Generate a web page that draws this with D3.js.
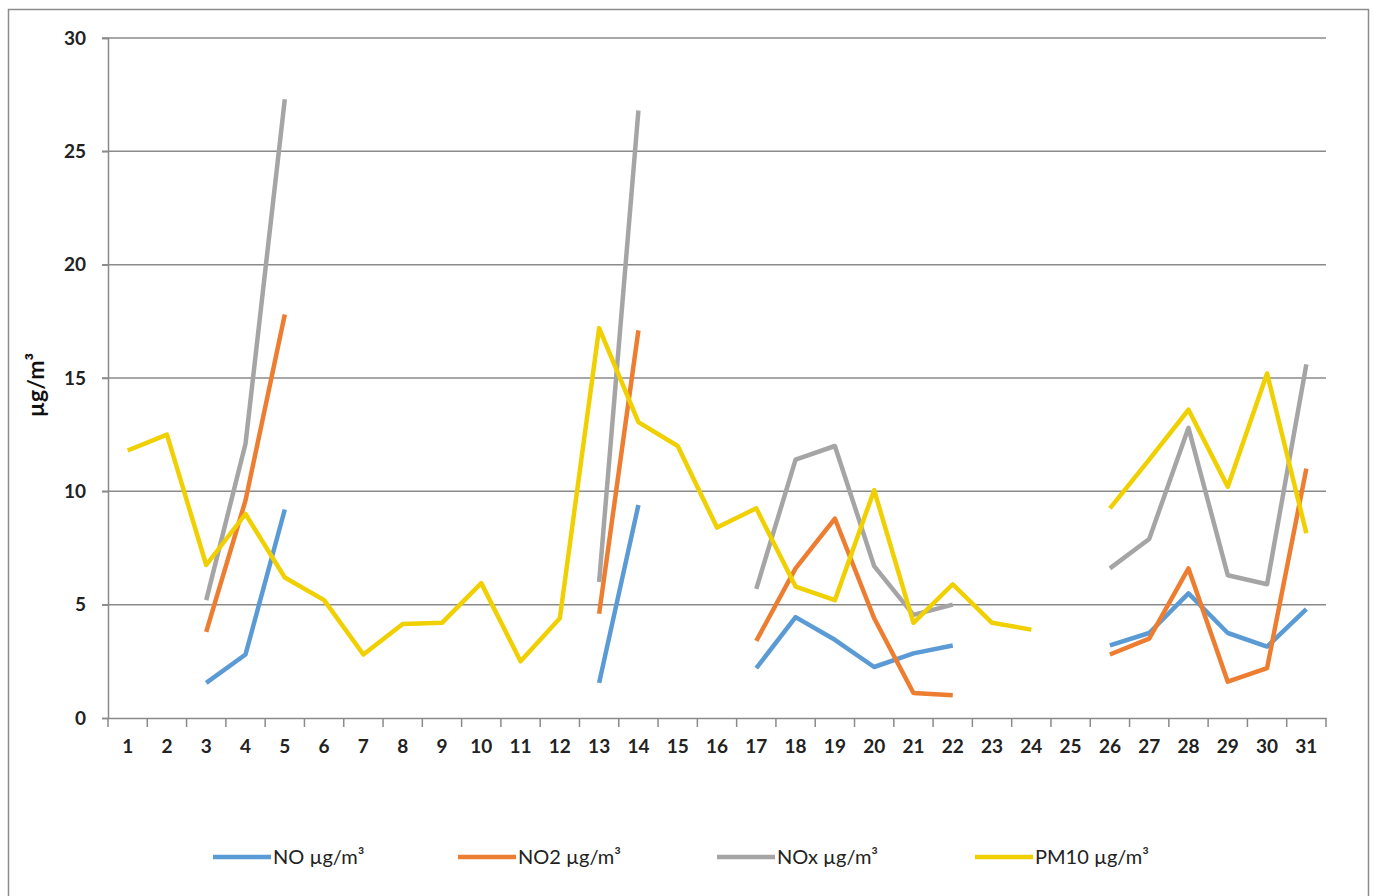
<!DOCTYPE html>
<html>
<head>
<meta charset="utf-8">
<script src="https://cdn.jsdelivr.net/npm/d3@7"></script>
<style>
  body { margin: 0; background: #fff; }
  svg text { font-family: Lato, "Open Sans", sans-serif; }
</style>
</head>
<body>
<div id="chart"></div>
<script>
// days of the month
const days = d3.range(1, 32).map(String);

// null = no measurement that day
const noValues = [null, null, 1.55, 2.8, 9.2, null, null, null, null, null, null, null, 1.55, 9.4, null, null,
    2.2, 4.45, 3.45, 2.25, 2.85, 3.2, null, null, null, 3.2, 3.75, 5.5, 3.75, 3.15, 4.8];
const no2Values = [null, null, 3.8, 9.6, 17.8, null, null, null, null, null, null, null, 4.6, 17.1, null, null,
    3.4, 6.6, 8.8, 4.4, 1.1, 1.0, null, null, null, 2.8, 3.5, 6.6, 1.6, 2.2, 11.0];
const noxValues = [null, null, 5.2, 12.1, 27.3, null, null, null, null, null, null, null, 6.0, 26.8, null, null,
    5.7, 11.4, 12.0, 6.7, 4.55, 5.0, null, null, null, 6.6, 7.9, 12.8, 6.3, 5.9, 15.6];
const pm10Values = [11.8, 12.5, 6.75, 9.0, 6.2, 5.2, 2.8, 4.15, 4.2, 5.95, 2.5, 4.4, 17.2, 13.05, 12.0, 8.4,
    9.25, 5.8, 5.2, 10.05, 4.2, 5.9, 4.2, 3.9, null, 9.25, 11.4, 13.6, 10.2, 15.2, 8.15];

const seriesNames = ["NO µg/m³", "NO2 µg/m³", "NOx µg/m³", "PM10 µg/m³"];
const seriesColors = ["#5b9bd5", "#ed7d31", "#a5a5a5", "#f0d000"];
const yTicks = [0, 5, 10, 15, 20, 25, 30];

const series = [noValues, no2Values, noxValues, pm10Values].map((vals, i) => ({
    name: seriesNames[i],
    color: seriesColors[i],
    values: vals.map((v, j) => ({ day: days[j], v }))
}));

const width = 1374, height = 896;
const margin = { top: 38, right: 48, bottom: 178, left: 108 };

const svg = d3.select("#chart").append("svg")
    .attr("width", width)
    .attr("height", height);

// chart frame
svg.append("rect")
    .attr("x", 8.5).attr("y", 9.5)
    .attr("width", 1360).attr("height", 900)
    .attr("fill", "none")
    .attr("stroke", "#8c8c8c")
    .attr("stroke-width", 1.5);

const x = d3.scaleBand()
    .domain(days)
    .range([margin.left, width - margin.right]);

const y = d3.scaleLinear()
    .domain([0, 30])
    .range([height - margin.bottom, margin.top]);

// gridlines
svg.append("g")
    .selectAll("line")
    .data(yTicks.slice(1))
    .enter()
    .append("line")
    .attr("x1", margin.left - 6)
    .attr("x2", width - margin.right)
    .attr("y1", d => y(d))
    .attr("y2", d => y(d))
    .attr("stroke", "#8a8a8a")
    .attr("stroke-width", 1.5);

// y axis
const yAxis = svg.append("g")
    .attr("transform", `translate(${margin.left},0)`)
    .call(d3.axisLeft(y).tickValues(yTicks).tickSize(6).tickPadding(16));
yAxis.select(".domain").attr("stroke", "#8a8a8a").attr("stroke-width", 1.5);
yAxis.selectAll(".tick line").attr("stroke", "#8a8a8a").attr("stroke-width", 1.5);
yAxis.selectAll("text")
    .attr("font-size", 19)
    .attr("font-weight", "bold")
    .attr("fill", "#222")
    .style("font-family", "Lato, 'Open Sans', sans-serif");

// x axis, ticks between categories
const xAxis = svg.append("g")
    .attr("transform", `translate(0,${y(0)})`)
    .call(d3.axisBottom(x).tickSize(0).tickPadding(22));
xAxis.select(".domain").attr("stroke", "#8a8a8a").attr("stroke-width", 1.5);
xAxis.selectAll("text")
    .attr("font-size", 19)
    .attr("font-weight", "bold")
    .attr("fill", "#222")
    .style("font-family", "Lato, 'Open Sans', sans-serif");

const boundaries = days.map(d => x(d)).concat([x(days[days.length - 1]) + x.bandwidth()]);
xAxis.selectAll(".sep")
    .data(boundaries)
    .enter()
    .append("line")
    .attr("class", "sep")
    .attr("x1", d => d).attr("x2", d => d)
    .attr("y1", 0).attr("y2", 9)
    .attr("stroke", "#8a8a8a")
    .attr("stroke-width", 1.5);

// y title
svg.append("text")
    .attr("transform", "translate(36,385) rotate(-90)")
    .attr("text-anchor", "middle")
    .attr("dy", "0.35em")
    .attr("font-size", 23)
    .attr("font-weight", "bold")
    .attr("fill", "#111")
    .text("µg/m³");

// lines
const line = d3.line()
    .defined(d => d.v !== null)
    .x(d => x(d.day) + x.bandwidth() / 2)
    .y(d => y(d.v));

svg.append("g")
    .selectAll("path")
    .data(series)
    .enter()
    .append("path")
    .attr("d", d => line(d.values))
    .attr("fill", "none")
    .attr("stroke", d => d.color)
    .attr("stroke-width", 4.5)
    .attr("stroke-linejoin", "round");

// legend
const legendX = [213, 458, 717, 975];
const legend = svg.append("g")
    .selectAll("g")
    .data(series)
    .enter()
    .append("g")
    .attr("transform", (d, i) => `translate(${legendX[i]},857)`);

legend.append("line")
    .attr("x1", 0).attr("x2", 58)
    .attr("y1", 0).attr("y2", 0)
    .attr("stroke", d => d.color)
    .attr("stroke-width", 4.5);

legend.append("text")
    .attr("x", 60)
    .attr("y", 0)
    .attr("dy", "0.35em")
    .attr("font-size", 20)
    .attr("fill", "#222")
    .text(d => d.name);
</script>
</body>
</html>
